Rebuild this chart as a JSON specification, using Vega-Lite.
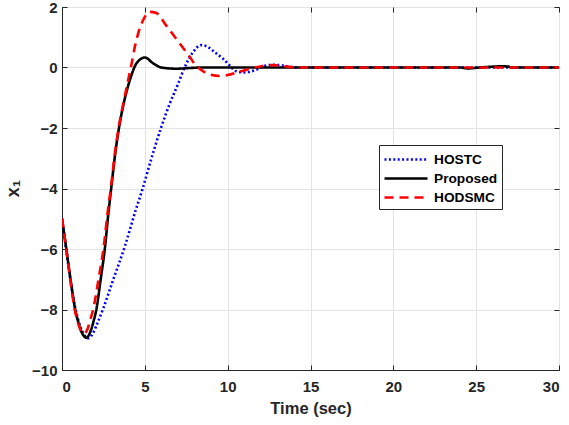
{
  "$schema": "https://vega.github.io/schema/vega-lite/v6.json",
  "autosize": {"type": "none"},
  "width": 497,
  "height": 363,
  "padding": {"left": 62, "top": 7, "right": 10, "bottom": 55},
  "background": "white",
  "config": {
    "view": {"stroke": "#262626", "strokeWidth": 1},
    "font": "Liberation Sans"
  },
  "datasets": {
    "d": [
      {"s": "HOSTC", "t": 0, "v": -5},
      {"s": "HOSTC", "t": 0.25, "v": -6.0},
      {"s": "HOSTC", "t": 0.5, "v": -7.0},
      {"s": "HOSTC", "t": 0.8, "v": -7.95},
      {"s": "HOSTC", "t": 1.1, "v": -8.55},
      {"s": "HOSTC", "t": 1.35, "v": -8.85},
      {"s": "HOSTC", "t": 1.6, "v": -8.95},
      {"s": "HOSTC", "t": 1.85, "v": -8.8},
      {"s": "HOSTC", "t": 2.1, "v": -8.5},
      {"s": "HOSTC", "t": 2.5, "v": -7.95},
      {"s": "HOSTC", "t": 3.1, "v": -7.0},
      {"s": "HOSTC", "t": 3.8, "v": -5.9},
      {"s": "HOSTC", "t": 4.4, "v": -4.8},
      {"s": "HOSTC", "t": 4.87, "v": -4.0},
      {"s": "HOSTC", "t": 5.4, "v": -3.0},
      {"s": "HOSTC", "t": 6.0, "v": -1.96},
      {"s": "HOSTC", "t": 6.5, "v": -1.2},
      {"s": "HOSTC", "t": 7.0, "v": -0.55},
      {"s": "HOSTC", "t": 7.4, "v": 0.0},
      {"s": "HOSTC", "t": 7.9, "v": 0.5},
      {"s": "HOSTC", "t": 8.4, "v": 0.74},
      {"s": "HOSTC", "t": 8.8, "v": 0.68},
      {"s": "HOSTC", "t": 9.3, "v": 0.47},
      {"s": "HOSTC", "t": 9.7, "v": 0.3},
      {"s": "HOSTC", "t": 10.0, "v": 0.14},
      {"s": "HOSTC", "t": 10.5, "v": -0.12},
      {"s": "HOSTC", "t": 11.0, "v": -0.16},
      {"s": "HOSTC", "t": 11.7, "v": -0.08},
      {"s": "HOSTC", "t": 12.2, "v": 0.05},
      {"s": "HOSTC", "t": 12.8, "v": 0.09},
      {"s": "HOSTC", "t": 13.4, "v": 0.06},
      {"s": "HOSTC", "t": 14.2, "v": 0.0},
      {"s": "HOSTC", "t": 20, "v": 0.0},
      {"s": "HOSTC", "t": 30, "v": 0.0},

      {"s": "Proposed", "t": 0, "v": -5},
      {"s": "Proposed", "t": 0.24, "v": -5.92},
      {"s": "Proposed", "t": 0.52, "v": -7.02},
      {"s": "Proposed", "t": 0.78, "v": -7.95},
      {"s": "Proposed", "t": 1.0, "v": -8.45},
      {"s": "Proposed", "t": 1.25, "v": -8.82},
      {"s": "Proposed", "t": 1.49, "v": -8.93},
      {"s": "Proposed", "t": 1.7, "v": -8.75},
      {"s": "Proposed", "t": 1.9, "v": -8.4},
      {"s": "Proposed", "t": 2.09, "v": -7.95},
      {"s": "Proposed", "t": 2.33, "v": -7.02},
      {"s": "Proposed", "t": 2.6, "v": -5.92},
      {"s": "Proposed", "t": 2.8, "v": -4.82},
      {"s": "Proposed", "t": 3.0, "v": -3.85},
      {"s": "Proposed", "t": 3.2, "v": -2.9},
      {"s": "Proposed", "t": 3.45, "v": -1.96},
      {"s": "Proposed", "t": 3.7, "v": -1.25},
      {"s": "Proposed", "t": 4.1, "v": -0.41},
      {"s": "Proposed", "t": 4.5, "v": 0.14},
      {"s": "Proposed", "t": 5.0, "v": 0.33},
      {"s": "Proposed", "t": 5.5, "v": 0.14},
      {"s": "Proposed", "t": 6.0, "v": 0.0},
      {"s": "Proposed", "t": 6.9, "v": -0.04},
      {"s": "Proposed", "t": 7.6, "v": -0.02},
      {"s": "Proposed", "t": 8.5, "v": 0.0},
      {"s": "Proposed", "t": 20, "v": 0.0},
      {"s": "Proposed", "t": 24.0, "v": 0.0},
      {"s": "Proposed", "t": 24.5, "v": -0.03},
      {"s": "Proposed", "t": 25.2, "v": 0.0},
      {"s": "Proposed", "t": 26.7, "v": 0.04},
      {"s": "Proposed", "t": 27.3, "v": 0.0},
      {"s": "Proposed", "t": 30, "v": 0.0},

      {"s": "HODSMC", "t": 0, "v": -5},
      {"s": "HODSMC", "t": 0.24, "v": -5.92},
      {"s": "HODSMC", "t": 0.5, "v": -7.02},
      {"s": "HODSMC", "t": 0.75, "v": -7.95},
      {"s": "HODSMC", "t": 1.0, "v": -8.5},
      {"s": "HODSMC", "t": 1.3, "v": -8.8},
      {"s": "HODSMC", "t": 1.5, "v": -8.7},
      {"s": "HODSMC", "t": 1.7, "v": -8.35},
      {"s": "HODSMC", "t": 1.9, "v": -7.95},
      {"s": "HODSMC", "t": 2.2, "v": -7.02},
      {"s": "HODSMC", "t": 2.52, "v": -5.92},
      {"s": "HODSMC", "t": 2.75, "v": -4.82},
      {"s": "HODSMC", "t": 2.97, "v": -3.9},
      {"s": "HODSMC", "t": 3.18, "v": -2.9},
      {"s": "HODSMC", "t": 3.43, "v": -1.96},
      {"s": "HODSMC", "t": 3.7, "v": -1.2},
      {"s": "HODSMC", "t": 4.0, "v": -0.4},
      {"s": "HODSMC", "t": 4.2, "v": 0.12},
      {"s": "HODSMC", "t": 4.4, "v": 0.69},
      {"s": "HODSMC", "t": 4.6, "v": 1.13},
      {"s": "HODSMC", "t": 4.9, "v": 1.57},
      {"s": "HODSMC", "t": 5.3, "v": 1.84},
      {"s": "HODSMC", "t": 5.7, "v": 1.8},
      {"s": "HODSMC", "t": 6.3, "v": 1.38},
      {"s": "HODSMC", "t": 7.1, "v": 0.8},
      {"s": "HODSMC", "t": 7.7, "v": 0.36},
      {"s": "HODSMC", "t": 8.1, "v": 0.05},
      {"s": "HODSMC", "t": 8.4, "v": -0.08},
      {"s": "HODSMC", "t": 8.9, "v": -0.23},
      {"s": "HODSMC", "t": 9.5, "v": -0.28},
      {"s": "HODSMC", "t": 10.0, "v": -0.25},
      {"s": "HODSMC", "t": 10.6, "v": -0.16},
      {"s": "HODSMC", "t": 11.5, "v": -0.02},
      {"s": "HODSMC", "t": 12.1, "v": 0.05},
      {"s": "HODSMC", "t": 12.7, "v": 0.08},
      {"s": "HODSMC", "t": 13.3, "v": 0.05},
      {"s": "HODSMC", "t": 14.2, "v": 0.0},
      {"s": "HODSMC", "t": 20, "v": 0.0},
      {"s": "HODSMC", "t": 30, "v": 0.0}
    ]
  },
  "data": {"name": "d"},
  "resolve": {"axis": {"x": "independent", "y": "independent"}},
  "layer": [
    {
      "mark": {"type": "line", "interpolate": "monotone", "strokeWidth": 2.6, "clip": true},
      "encoding": {
        "x": {
          "field": "t", "type": "quantitative",
          "scale": {"domain": [0, 30], "nice": false, "zero": false},
          "axis": {
            "title": "Time (sec)", "values": [0, 5, 10, 15, 20, 25, 30],
            "titleFont": "Liberation Sans", "titleFontSize": 16.5, "titleFontWeight": "bold", "titleColor": "#262626",
            "titlePadding": 6,
            "labelFont": "Liberation Sans", "labelFontSize": 15, "labelFontWeight": "bold", "labelColor": "#262626",
            "labelPadding": 14, "tickSize": -5, "tickColor": "#262626",
            "domainColor": "#262626", "gridColor": "#e3e3e3", "gridWidth": 1
          }
        },
        "y": {
          "field": "v", "type": "quantitative",
          "scale": {"domain": [-10, 2], "nice": false, "zero": false},
          "axis": {
            "title": "x₁", "values": [-10, -8, -6, -4, -2, 0, 2],
            "titleFont": "Liberation Sans", "titleFontSize": 18, "titleFontWeight": "bold", "titleColor": "#262626",
            "titleX": -49, "titleY": 181, "titleBaseline": "middle", "titleAlign": "center", "titleAngle": -90,
            "labelFont": "Liberation Sans", "labelFontSize": 15, "labelFontWeight": "bold", "labelColor": "#262626",
            "labelPadding": 10, "tickSize": -5, "tickColor": "#262626",
            "domainColor": "#262626", "gridColor": "#e3e3e3", "gridWidth": 1
          }
        },
        "color": {
          "field": "s", "type": "nominal",
          "scale": {"domain": ["HOSTC", "Proposed", "HODSMC"], "range": ["#0000ff", "#000000", "#ff0000"]},
          "legend": {
            "title": null, "orient": "none", "legendX": 317, "legendY": 138,
            "symbolType": "M-1,0H3.78", "symbolSize": 324, "symbolStrokeWidth": 2.6,
            "labelFont": "Liberation Sans", "labelFontSize": 13.7, "labelFontWeight": "bold", "labelColor": "#000000",
            "fillColor": "white", "strokeColor": "#262626", "padding": 4, "rowPadding": 1, "labelOffset": 30
          }
        },
        "strokeDash": {
          "field": "s", "type": "nominal",
          "scale": {"domain": ["HOSTC", "Proposed", "HODSMC"], "range": [[2, 2.4], [1, 0], [9, 6]]},
          "legend": null
        },
        "order": {"field": "t", "type": "quantitative"}
      }
    },
    {
      "mark": {"type": "point", "opacity": 0},
      "encoding": {
        "x": {
          "field": "t", "type": "quantitative",
          "scale": {"domain": [0, 30], "nice": false, "zero": false},
          "axis": {"orient": "top", "title": null, "labels": false, "grid": false, "domain": false,
                   "values": [0, 5, 10, 15, 20, 25, 30], "tickSize": -5, "tickColor": "#262626"}
        },
        "y": {
          "field": "v", "type": "quantitative",
          "scale": {"domain": [-10, 2], "nice": false, "zero": false},
          "axis": {"orient": "right", "title": null, "labels": false, "grid": false, "domain": false,
                   "values": [-10, -8, -6, -4, -2, 0, 2], "tickSize": -5, "tickColor": "#262626"}
        }
      }
    }
  ]
}
